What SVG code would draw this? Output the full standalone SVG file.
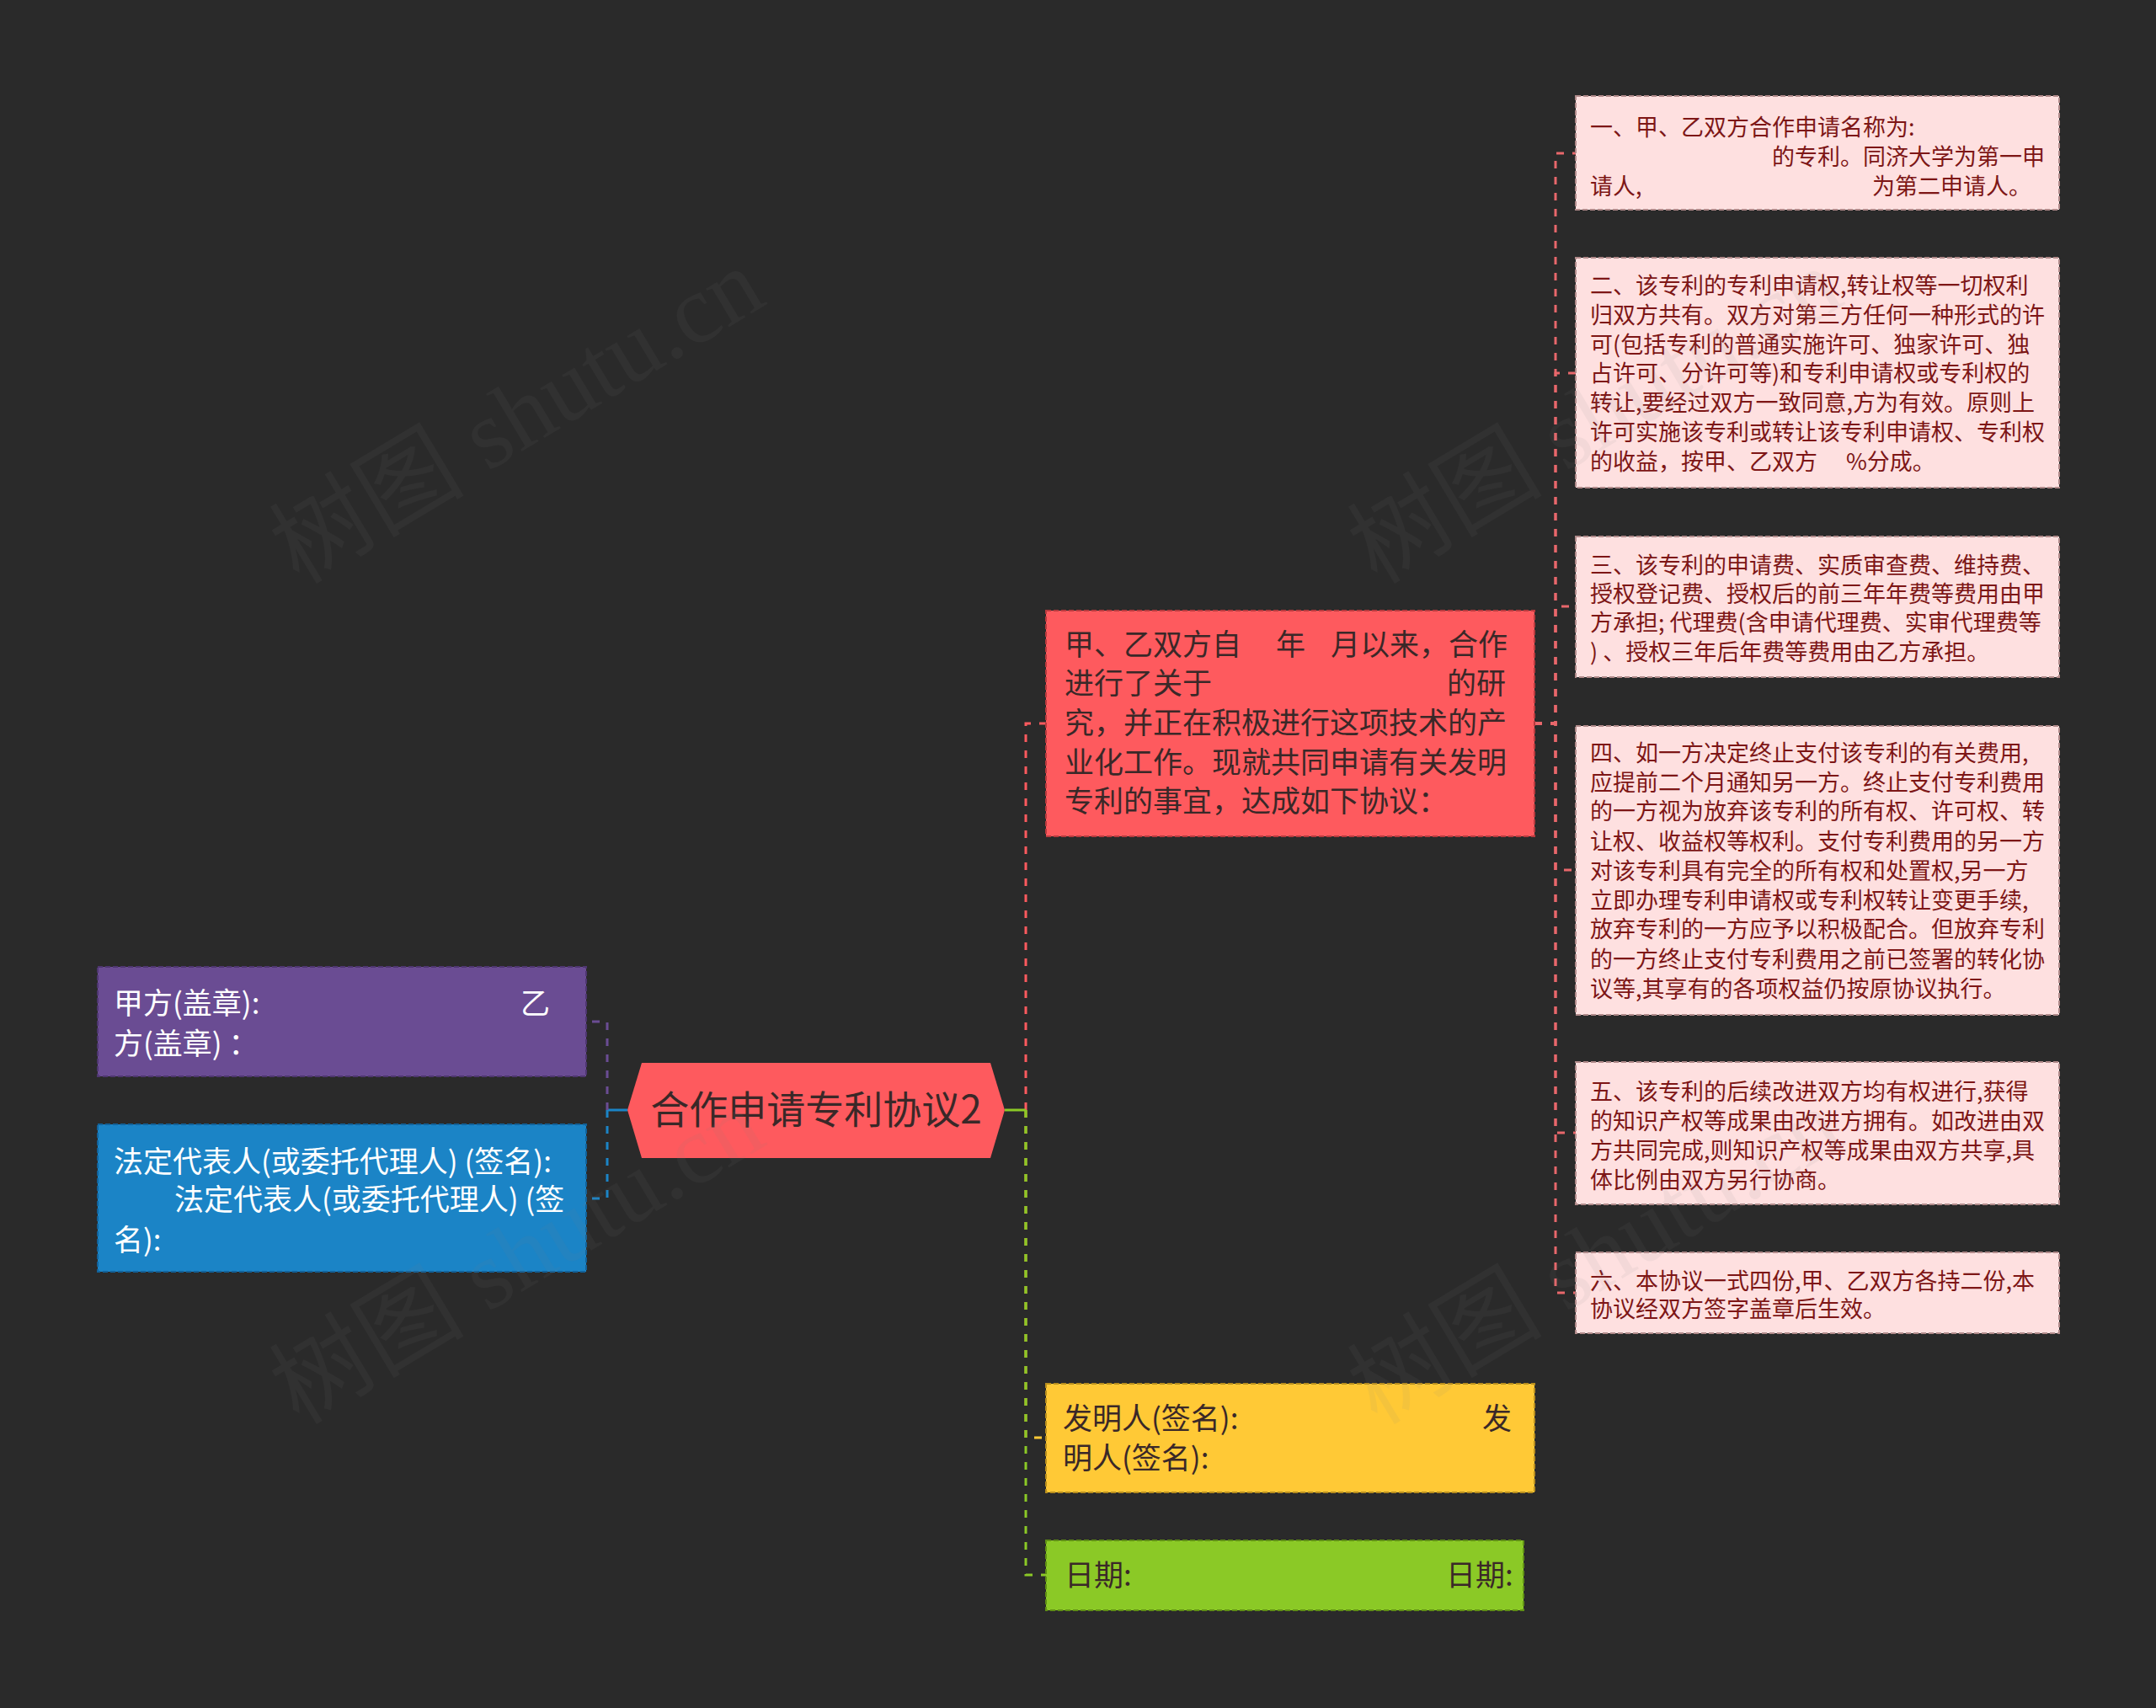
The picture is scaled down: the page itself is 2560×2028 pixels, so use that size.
<svg xmlns="http://www.w3.org/2000/svg" width="2560" height="2028" viewBox="0 0 2560 2028">
<style>
text{font-family:"Noto Sans CJK SC","Noto Sans",sans-serif;}
.t35{font-size:35px;}
.t27{font-size:27px;fill:#7d1616;}
.dark{fill:#3a2828;}
.light{fill:#ffffff;}
.box{stroke-width:2;stroke-dasharray:6 3;}
.pink{fill:#fee0e0;stroke:#b08a8a;}
.con{fill:none;stroke-width:3;stroke-dasharray:9 10;}
.solid{fill:none;stroke-width:3;}
.wm{font-family:"Liberation Serif","Noto Sans CJK SC",serif;font-size:116px;fill:#808080;opacity:0.08;}
</style>
<rect x="0" y="0" width="2560" height="2028" fill="#2a2a2a"/>

<g id="connectors">
  <path class="solid" stroke="#1b84c6" d="M745,1318 H721"/>
  <path class="con" stroke="#6a4c93" d="M721,1318 V1213 H696"/>
  <path class="con" stroke="#1b84c6" d="M721,1318 V1423 H696"/>
  <path class="con" stroke="#fe5a5e" d="M1218,1318 V859 H1242"/>
  <path class="con" stroke="#ffc936" d="M1218,1318 V1707 H1242"/>
  <path class="con" stroke="#8bc926" d="M1218,1318 V1870 H1242"/>
  <path class="solid" stroke="#8bc926" d="M1193,1318 H1218"/>
  <g stroke="#e8676b">
    <path class="con" d="M1822,859 H1847 V182 H1871"/>
    <path class="con" d="M1822,859 H1847 V443 H1871"/>
    <path class="con" d="M1822,859 H1847 V720 H1871"/>
    <path class="con" d="M1822,859 H1847 V1033 H1871"/>
    <path class="con" d="M1822,859 H1847 V1345 H1871"/>
    <path class="con" d="M1822,859 H1847 V1535 H1871"/>
  </g>
</g>

<g id="root">
  <polygon points="745,1318 762,1262 1176,1262 1193,1318 1176,1375 762,1375" fill="#fe5a5e"/>
  <text x="969" y="1334" text-anchor="middle" font-size="46" class="dark">合作申请专利协议2</text>
</g>

<g id="node-intro">
  <rect class="box" x="1242" y="725" width="580" height="268" fill="#fe5a5e" stroke="#b83a3e"/>
  <text class="t35 dark">
    <tspan x="1264" y="778">甲、乙双方自</tspan><tspan x="1515" y="778">年</tspan><tspan x="1580" y="778">月以来，合作</tspan>
    <tspan x="1264" y="824">进行了关于</tspan><tspan x="1718" y="824">的研</tspan>
    <tspan x="1264" y="871">究，并正在积极进行这项技术的产</tspan>
    <tspan x="1264" y="918">业化工作。现就共同申请有关发明</tspan>
    <tspan x="1264" y="964">专利的事宜，达成如下协议：</tspan>
  </text>
</g>

<g id="node-1">
  <rect class="box pink" x="1871" y="114" width="574" height="135"/>
  <text class="t27">
    <tspan x="1888" y="161">一、甲、乙双方合作申请名称为:</tspan>
    <tspan x="2104" y="196">的专利。同济大学为第一申</tspan>
    <tspan x="1888" y="231">请人,</tspan><tspan x="2223" y="231">为第二申请人。</tspan>
  </text>
</g>

<g id="node-2">
  <rect class="box pink" x="1871" y="306" width="574" height="273"/>
  <text class="t27">
    <tspan x="1888" y="349">二、该专利的专利申请权,转让权等一切权利</tspan>
    <tspan x="1888" y="384">归双方共有。双方对第三方任何一种形式的许</tspan>
    <tspan x="1888" y="419">可(包括专利的普通实施许可、独家许可、独</tspan>
    <tspan x="1888" y="453">占许可、分许可等)和专利申请权或专利权的</tspan>
    <tspan x="1888" y="488">转让,要经过双方一致同意,方为有效。原则上</tspan>
    <tspan x="1888" y="523">许可实施该专利或转让该专利申请权、专利权</tspan>
    <tspan x="1888" y="558">的收益，按甲、乙双方</tspan><tspan x="2192" y="558">%分成。</tspan>
  </text>
</g>

<g id="node-3">
  <rect class="box pink" x="1871" y="637" width="574" height="167"/>
  <text class="t27">
    <tspan x="1888" y="681">三、该专利的申请费、实质审查费、维持费、</tspan>
    <tspan x="1888" y="715">授权登记费、授权后的前三年年费等费用由甲</tspan>
    <tspan x="1888" y="749">方承担; 代理费(含申请代理费、实审代理费等</tspan>
    <tspan x="1888" y="784">) 、授权三年后年费等费用由乙方承担。</tspan>
  </text>
</g>

<g id="node-4">
  <rect class="box pink" x="1871" y="862" width="574" height="343"/>
  <text class="t27">
    <tspan x="1888" y="904">四、如一方决定终止支付该专利的有关费用,</tspan>
    <tspan x="1888" y="939">应提前二个月通知另一方。终止支付专利费用</tspan>
    <tspan x="1888" y="973">的一方视为放弃该专利的所有权、许可权、转</tspan>
    <tspan x="1888" y="1009">让权、收益权等权利。支付专利费用的另一方</tspan>
    <tspan x="1888" y="1044">对该专利具有完全的所有权和处置权,另一方</tspan>
    <tspan x="1888" y="1079">立即办理专利申请权或专利权转让变更手续,</tspan>
    <tspan x="1888" y="1113">放弃专利的一方应予以积极配合。但放弃专利</tspan>
    <tspan x="1888" y="1149">的一方终止支付专利费用之前已签署的转化协</tspan>
    <tspan x="1888" y="1184">议等,其享有的各项权益仍按原协议执行。</tspan>
  </text>
</g>

<g id="node-5">
  <rect class="box pink" x="1871" y="1261" width="574" height="169"/>
  <text class="t27">
    <tspan x="1888" y="1306">五、该专利的后续改进双方均有权进行,获得</tspan>
    <tspan x="1888" y="1341">的知识产权等成果由改进方拥有。如改进由双</tspan>
    <tspan x="1888" y="1376">方共同完成,则知识产权等成果由双方共享,具</tspan>
    <tspan x="1888" y="1411">体比例由双方另行协商。</tspan>
  </text>
</g>

<g id="node-6">
  <rect class="box pink" x="1871" y="1487" width="574" height="96"/>
  <text class="t27">
    <tspan x="1888" y="1531">六、本协议一式四份,甲、乙双方各持二份,本</tspan>
    <tspan x="1888" y="1564">协议经双方签字盖章后生效。</tspan>
  </text>
</g>

<g id="node-seal">
  <rect class="box" x="116" y="1148" width="580" height="130" fill="#6a4c93" stroke="#4e3670"/>
  <text class="t35 light">
    <tspan x="135" y="1204">甲方(盖章):</tspan><tspan x="618" y="1204">乙</tspan>
    <tspan x="135" y="1252">方(盖章) ：</tspan>
  </text>
</g>

<g id="node-rep">
  <rect class="box" x="116" y="1335" width="580" height="175" fill="#1b84c6" stroke="#12629a"/>
  <text class="t35 light">
    <tspan x="135" y="1392">法定代表人(或委托代理人) (签名):</tspan>
    <tspan x="207" y="1437">法定代表人(或委托代理人) (签</tspan>
    <tspan x="135" y="1485">名):</tspan>
  </text>
</g>

<g id="node-inventor">
  <rect class="box" x="1242" y="1643" width="580" height="129" fill="#ffc936" stroke="#b88e1e"/>
  <text class="t35 dark">
    <tspan x="1262" y="1697">发明人(签名):</tspan><tspan x="1760" y="1697">发</tspan>
    <tspan x="1262" y="1744">明人(签名):</tspan>
  </text>
</g>

<g id="node-date">
  <rect class="box" x="1242" y="1829" width="567" height="83" fill="#8bc926" stroke="#5f8f14"/>
  <text class="t35 dark">
    <tspan x="1264" y="1883">日期:</tspan><tspan x="1717" y="1883">日期:</tspan>
  </text>
</g>

<g id="watermarks">
  <text class="wm" transform="translate(355,695) rotate(-31)">树图 shutu.cn</text>
  <text class="wm" transform="translate(1635,695) rotate(-31)">树图 shutu.cn</text>
  <text class="wm" transform="translate(355,1693) rotate(-31)">树图 shutu.cn</text>
  <text class="wm" transform="translate(1635,1693) rotate(-31)">树图 shutu.cn</text>
</g>
</svg>
